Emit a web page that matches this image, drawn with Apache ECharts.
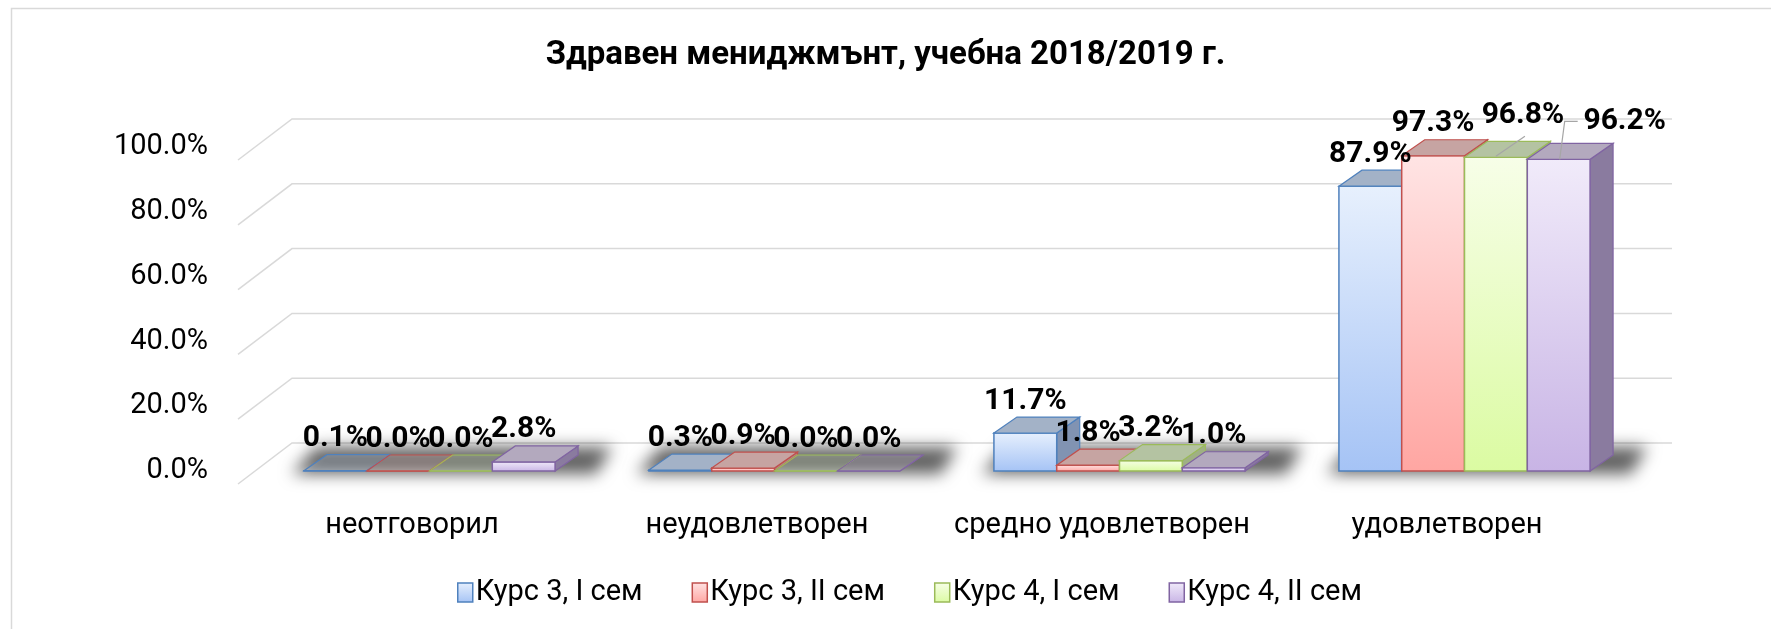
<!DOCTYPE html>
<html>
<head>
<meta charset="utf-8">
<style>
  html, body { margin: 0; padding: 0; background: #fff; }
  #chart { width: 1771px; height: 629px; }
</style>
<script src="https://cdn.jsdelivr.net/npm/echarts@6/dist/echarts.min.js"></script>
</head>
<body>
<div id="chart"></div>
<script>
// Chart data
var titleText = 'Здравен мениджмънт, учебна 2018/2019 г.';
var categories = ['неотговорил', 'неудовлетворен', 'средно удовлетворен', 'удовлетворен'];
var seriesNames = ['Курс 3, I сем', 'Курс 3, II сем', 'Курс 4, I сем', 'Курс 4, II сем'];
var kurs3Sem1 = [0.1, 0.3, 11.7, 87.9];
var kurs3Sem2 = [0.0, 0.9, 1.8, 97.3];
var kurs4Sem1 = [0.0, 0.0, 3.2, 96.8];
var kurs4Sem2 = [2.8, 0.0, 1.0, 96.2];
var yTicks = [0, 20, 40, 60, 80, 100];

var seriesValues = [kurs3Sem1, kurs3Sem2, kurs4Sem1, kurs4Sem2];

// Face colours for each series
var palette = [
    {front: ['#e7f0fd', '#a5c3f5'], top: '#a3b2c7', side: '#8193b2', border: '#4f81bd'},
    {front: ['#ffe4e4', '#ffa6a2'], top: '#c6a4a2', side: '#b08886', border: '#c0504d'},
    {front: ['#f7fee8', '#dbfba2'], top: '#b4c3a2', side: '#9fb084', border: '#9bbb59'},
    {front: ['#f1ebfa', '#c8b4e5'], top: '#b3a9be', side: '#8a7b9f', border: '#8064a2'}
];

// 3D look: depth of a bar, and the side/back wall offsets from the bar plane
var DEPTH = [23, -16];
var FRONT = [-19, 13];
var BACK = [35, -28];
var GROUP_RATIO = 0.728;

// labels that were moved aside (series-category)
var labelShift = {
    '2-3': {dx: 27, dy: -10, leader: 'straight'},
    '3-3': {dx: 66, dy: -6, leader: 'elbow'}
};

function rgba(hex, a) {
    var n = parseInt(hex.slice(1), 16);
    return 'rgba(' + (n >> 16) + ',' + ((n >> 8) & 255) + ',' + (n & 255) + ',' + a + ')';
}

function frontGradient(c) {
    return new echarts.graphic.LinearGradient(0, 0, 0, 1, [
        {offset: 0, color: c.front[0]},
        {offset: 1, color: c.front[1]}
    ]);
}

// back wall and side wall grid lines
var renderWall = function(params, api) {
    var cs = params.coordSys;
    var y = api.coord([0, api.value(1)])[1];
    return {
        type: 'polyline',
        shape: {points: [
            [cs.x + FRONT[0], y + FRONT[1]],
            [cs.x + BACK[0], y + BACK[1]],
            [cs.x + cs.width + BACK[0], y + BACK[1]]
        ]},
        style: {stroke: '#d9d9d9', lineWidth: 1.5, fill: null}
    };
};

// soft floor shadow under each group
var renderShadow = function(params, api) {
    var ci = api.value(0);
    var band = api.size([1, 0])[0];
    var groupW = band * GROUP_RATIO;
    var base = api.coord([ci, 0]);
    var x0 = base[0] - groupW / 2, x1 = base[0] + groupW / 2;
    var yb = base[1];
    var off = 3000;
    return {
        type: 'polygon',
        shape: {points: [
            [x0 - 12 + off, yb + 3],
            [x1 + DEPTH[0] + 18 + off, yb + 3],
            [x1 + DEPTH[0] + 34 + off, yb + DEPTH[1] - 8],
            [x0 + 12 + off, yb + DEPTH[1] - 8]
        ]},
        style: {fill: '#000', shadowBlur: 16, shadowColor: 'rgba(0,0,0,0.62)', shadowOffsetX: -off}
    };
};

var barRenderer = function(s) {
    return function(params, api) {
        var ci = api.value(0), v = api.value(1);
        var band = api.size([1, 0])[0];
        var groupW = band * GROUP_RATIO;
        var bw = groupW / 4;
        var base = api.coord([ci, 0]);
        var top = api.coord([ci, v]);
        var x0 = base[0] - groupW / 2 + s * bw;
        var x1 = x0 + bw;
        var yb = base[1], yt = top[1];
        var dx = DEPTH[0], dy = DEPTH[1];
        var c = palette[s];
        var topAlpha = v < 0.25 ? 0.3 : 1;
        var children = [
            {
                type: 'polygon',
                shape: {points: [[x1, yt], [x1 + dx, yt + dy], [x1 + dx, yb + dy], [x1, yb]]},
                style: {fill: c.side, stroke: c.border, lineWidth: 1.2}
            },
            {
                type: 'rect',
                shape: {x: x0, y: yt, width: bw, height: yb - yt},
                style: {fill: frontGradient(c), stroke: c.border, lineWidth: 1.5}
            },
            {
                type: 'polygon',
                shape: {points: [[x0, yt], [x0 + dx, yt + dy], [x1 + dx, yt + dy], [x1, yt]]},
                style: {fill: rgba(c.top, topAlpha), stroke: c.border, lineWidth: 1.2}
            }
        ];

        var sh = labelShift[s + '-' + ci];
        var cx = x0 + bw / 2;
        var lx = cx + (sh ? sh.dx : 0);
        var ly = yt - 32 + (sh ? sh.dy : 0);
        if (sh && sh.leader == 'straight') {
            children.push({
                type: 'polyline', z2: 90,
                shape: {points: [[lx + 2, ly + 21], [cx, yt - 1]]},
                style: {stroke: '#a6a6a6', lineWidth: 1.2, fill: null}
            });
        } else if (sh && sh.leader == 'elbow') {
            children.push({
                type: 'polyline', z2: 90,
                shape: {points: [[lx - 47, ly], [cx + 6, ly], [cx + 1, yt]]},
                style: {stroke: '#a6a6a6', lineWidth: 1.2, fill: null}
            });
        }
        children.push({
            type: 'text', z2: 100,
            style: {
                text: v.toFixed(1) + '%',
                x: lx, y: ly,
                align: 'center', verticalAlign: 'middle',
                font: 'bold 30px Roboto',
                fill: '#000'
            }
        });
        return {type: 'group', children: children};
    };
};

var chartDom = document.getElementById('chart');
var chart = echarts.init(chartDom);

var series = [
    {
        type: 'custom', name: 'wall', z: 1, silent: true,
        renderItem: renderWall,
        data: yTicks.map(function(v) { return [0, v]; })
    },
    {
        type: 'custom', name: 'shadow', z: 2, silent: true,
        renderItem: renderShadow,
        data: categories.map(function(c, i) { return [i, 0]; })
    }
];
seriesValues.forEach(function(vals, s) {
    series.push({
        type: 'custom',
        name: seriesNames[s],
        z: 3,
        renderItem: barRenderer(s),
        itemStyle: {color: frontGradient(palette[s]), borderColor: palette[s].border},
        data: vals.map(function(v, i) { return [i, v]; })
    });
});

chart.setOption({
    animation: false,
    backgroundColor: '#fff',

    title: {
        text: titleText,
        left: 'center',
        top: 34,
        textStyle: {fontFamily: 'Roboto', fontSize: 33, fontWeight: 'bold', color: '#000'}
    },

    legend: {
        data: seriesNames.map(function(n, s) {
            return {
                name: n,
                icon: 'rect',
                itemStyle: {color: frontGradient(palette[s]), borderColor: palette[s].border, borderWidth: 1.5}
            };
        }),
        left: 452,
        top: 573,
        itemWidth: 15,
        itemHeight: 19,
        itemGap: 49,
        textStyle: {fontFamily: 'Roboto', fontSize: 29, color: '#000', padding: [0, 0, 0, -2]}
    },

    grid: {
        left: 257,
        right: 134,
        top: 147,
        bottom: 158,
        containLabel: false,
        outerBoundsMode: 'none'
    },

    xAxis: {
        type: 'category',
        data: categories,
        axisLine: {show: false},
        axisTick: {show: false},
        splitLine: {show: false},
        axisLabel: {
            interval: 0,
            margin: 40,
            fontFamily: 'Roboto',
            fontSize: 29,
            color: '#000',
            padding: [0, 35, 0, 0]
        }
    },

    yAxis: {
        type: 'value',
        min: 0,
        max: 100,
        interval: 20,
        axisLine: {show: false},
        axisTick: {show: false},
        splitLine: {show: false},
        axisLabel: {
            margin: 49,
            fontFamily: 'Roboto',
            fontSize: 29,
            color: '#000',
            padding: [26, 0, 0, 0],
            formatter: function(v) { return v.toFixed(1) + '%'; }
        }
    },

    graphic: [{
        type: 'rect',
        shape: {x: 11.5, y: 8.5, width: 1800, height: 700},
        style: {fill: null, stroke: '#d9d9d9', lineWidth: 1.5},
        silent: true
    }],

    series: series
});
</script>
</body>
</html>
